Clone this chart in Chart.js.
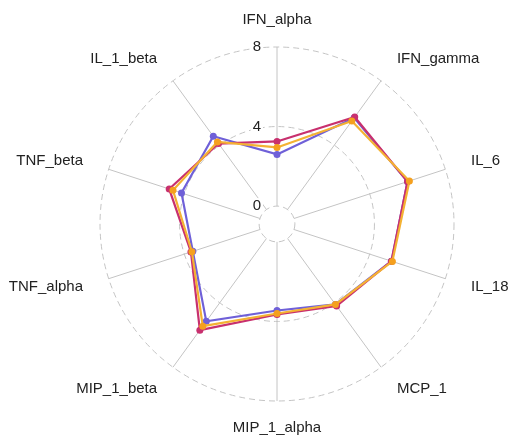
<!DOCTYPE html>
<html>
<head>
<meta charset="utf-8">
<script src="https://cdn.jsdelivr.net/npm/chart.js@4.4.1/dist/chart.umd.min.js"></script>
<style>
  html, body { margin: 0; padding: 0; background: #ffffff; }
  #wrap { position: relative; width: 511px; height: 439px; }
</style>
</head>
<body>
<div id="wrap"><canvas id="radar"></canvas></div>
<script>
// Cytokine axes, clockwise from the top
const categories = ['IFN_alpha', 'IFN_gamma', 'IL_6', 'IL_18', 'MCP_1',
                    'MIP_1_alpha', 'MIP_1_beta', 'TNF_alpha', 'TNF_beta', 'IL_1_beta'];

// Series values (first series is drawn on top)
const seriesOrange  = [2.95, 5.5, 6.1, 5.2, 4.1, 3.6, 5.45, 3.6, 4.6, 4.2];
const seriesMagenta = [3.25, 5.75, 6.0, 5.15, 4.2, 3.65, 5.7, 3.65, 4.8, 4.1];
const seriesPurple  = [2.6, 5.7, 6.0, 5.15, 4.1, 3.45, 5.15, 3.55, 4.15, 4.55];

// Radial axis range and tick labels
const axisMin = -0.9;
const axisMax = 8;
const tickValues = [0, 4, 8];

const FONT = '"Liberation Sans", Arial, sans-serif';
const TEXT_COLOR = '#222222';
const GRID_COLOR = '#c4c4c4';

// Spokes from the zero ring out to the outer ring, tick labels beside the top spoke,
// and category names around the outside.
const radarDecor = {
  id: 'radarDecor',
  beforeDatasetsDraw(chart) {
    const s = chart.scales.r;
    const ctx = chart.ctx;
    const inner = s.getDistanceFromCenterForValue(tickValues[0]);
    const outer = s.getDistanceFromCenterForValue(axisMax);
    ctx.save();
    ctx.strokeStyle = GRID_COLOR;
    ctx.lineWidth = 1;
    ctx.setLineDash([]);
    for (let i = 0; i < categories.length; i++) {
      const a = s.getPointPosition(i, inner);
      const b = s.getPointPosition(i, outer);
      ctx.beginPath();
      ctx.moveTo(a.x, a.y);
      ctx.lineTo(b.x, b.y);
      ctx.stroke();
    }
    ctx.font = '15px ' + FONT;
    ctx.textAlign = 'right';
    ctx.textBaseline = 'middle';
    tickValues.forEach(v => {
      const d = s.getDistanceFromCenterForValue(v);
      const x = s.xCenter - 16;
      const y = s.yCenter - d;
      const label = String(v);
      const w = ctx.measureText(label).width;
      ctx.fillStyle = '#ffffff';
      ctx.fillRect(x - w - 2, y - 8, w + 4, 16);
      ctx.fillStyle = TEXT_COLOR;
      ctx.fillText(label, x, y);
    });
    ctx.restore();
  },
  afterDraw(chart) {
    const s = chart.scales.r;
    const ctx = chart.ctx;
    const dist = s.getDistanceFromCenterForValue(axisMax) + 27;
    ctx.save();
    ctx.font = '15px ' + FONT;
    ctx.fillStyle = TEXT_COLOR;
    ctx.textBaseline = 'middle';
    categories.forEach((name, i) => {
      const p = s.getPointPosition(i, dist);
      const dx = p.x - s.xCenter;
      ctx.textAlign = Math.abs(dx) < 1 ? 'center' : (dx > 0 ? 'left' : 'right');
      ctx.fillText(name, p.x, p.y);
    });
    ctx.restore();
  }
};

function series(values, lineColor, pointColor) {
  return {
    data: values,
    borderColor: lineColor,
    backgroundColor: 'transparent',
    fill: false,
    borderWidth: 2.2,
    pointRadius: 3.5,
    pointBackgroundColor: pointColor,
    pointBorderColor: pointColor,
    pointBorderWidth: 0,
    tension: 0
  };
}

new Chart(document.getElementById('radar'), {
  type: 'radar',
  data: {
    labels: categories,
    datasets: [
      series(seriesOrange, '#f4b233', '#f5a01e'),
      series(seriesMagenta, '#c8306e', '#c8306e'),
      series(seriesPurple, '#6f60d8', '#6f60d8')
    ]
  },
  options: {
    responsive: true,
    maintainAspectRatio: false,
    animation: false,
    layout: { padding: { left: 100, top: 47, right: 57, bottom: 38 } },
    plugins: { legend: { display: false }, tooltip: { enabled: false } },
    scales: {
      r: {
        min: axisMin,
        max: axisMax,
        afterBuildTicks(scale) {
          scale.ticks = tickValues.map(v => ({ value: v }));
        },
        ticks: { display: false },
        pointLabels: { display: false },
        angleLines: { display: false },
        grid: { color: GRID_COLOR, lineWidth: 1, circular: true },
        border: { dash: [6, 4] }
      }
    }
  },
  plugins: [radarDecor]
});
</script>
</body>
</html>
